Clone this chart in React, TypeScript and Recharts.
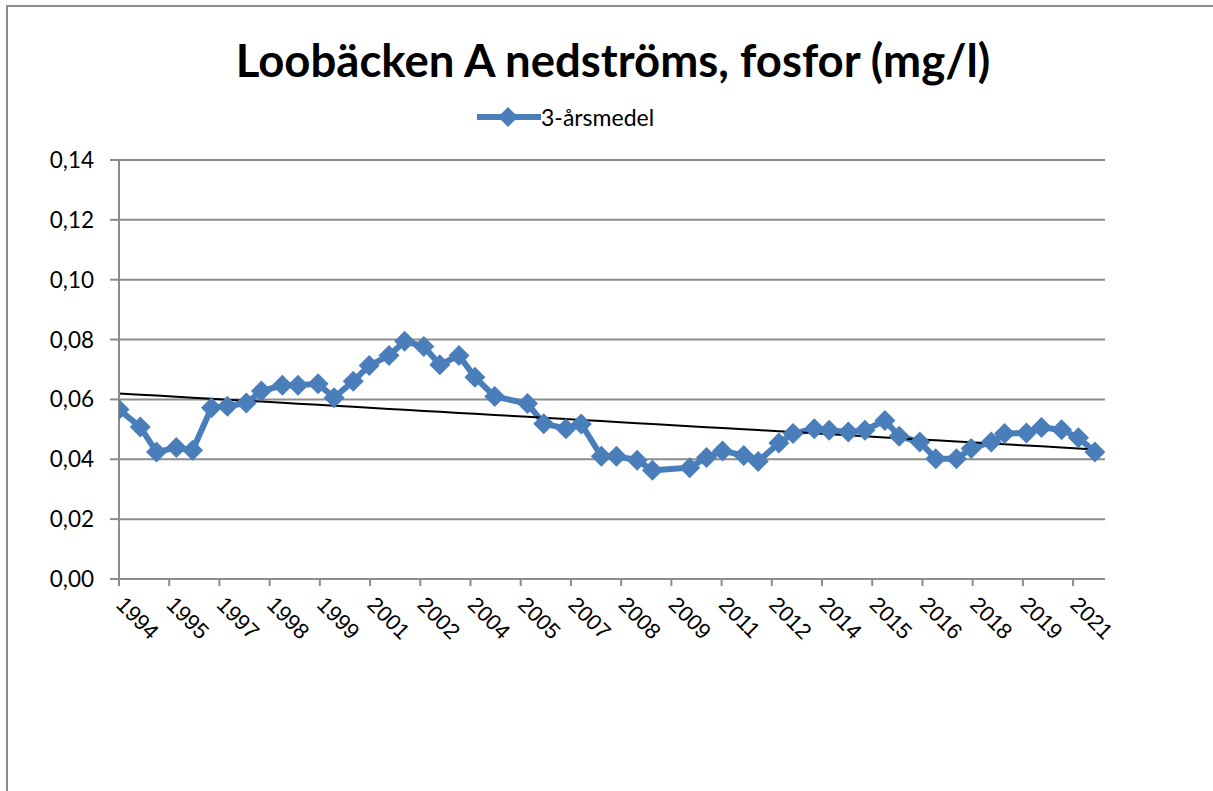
import React from 'react';
import { LineChart, Line, XAxis, YAxis, CartesianGrid } from 'recharts';

// provtagningsdatum (vår och höst), 3-årsmedel fosfor mg/l
const sampleDates = [
  '1994-04-19', '1994-11-25', '1995-05-10', '1995-12-01', '1996-05-16', '1996-11-28',
  '1997-05-10', '1997-11-22', '1998-04-25', '1998-11-28', '1999-05-07', '1999-12-01',
  '2000-05-13', '2000-11-28', '2001-05-10', '2001-12-01', '2002-05-10', '2002-11-25',
  '2003-05-07', '2003-11-22', '2004-05-04', '2004-11-25', '2005-10-28', '2006-04-13',
  '2006-11-28', '2007-05-04', '2007-11-28', '2008-05-01', '2008-12-01', '2009-05-07',
  '2010-05-25', '2010-11-16', '2011-04-28', '2011-12-04', '2012-05-01', '2012-12-01',
  '2013-04-25', '2013-12-01', '2014-05-01', '2014-11-16', '2015-05-04', '2015-11-28',
  '2016-04-22', '2016-11-22', '2017-05-04', '2017-12-04', '2018-05-04', '2018-11-28',
  '2019-04-13', '2019-11-25', '2020-04-28', '2020-11-22', '2021-05-13', '2021-11-01',
];

const medelValues = [
  0.0566, 0.0508, 0.0424, 0.0439, 0.0430, 0.0572,
  0.0577, 0.0588, 0.0628, 0.0647, 0.0647, 0.0652,
  0.0606, 0.0661, 0.0713, 0.0747, 0.0794, 0.0777,
  0.0716, 0.0747, 0.0674, 0.0610, 0.0586, 0.0519,
  0.0502, 0.0518, 0.0410, 0.0410, 0.0397, 0.0363,
  0.0372, 0.0406, 0.0428, 0.0413, 0.0393, 0.0454,
  0.0486, 0.0502, 0.0497, 0.0491, 0.0497, 0.0530,
  0.0477, 0.0458, 0.0402, 0.0402, 0.0436, 0.0458,
  0.0486, 0.0488, 0.0506, 0.0499, 0.0472, 0.0424,
];

const xTickLabels = [
  '1994', '1995', '1997', '1998', '1999', '2001', '2002', '2004', '2005', '2007',
  '2008', '2009', '2011', '2012', '2014', '2015', '2016', '2018', '2019', '2021',
];

const yTicks = [0, 0.02, 0.04, 0.06, 0.08, 0.1, 0.12, 0.14];

const BLUE = '#4A7EBB';
const GRID = '#8C8C8C';

const toYear = (s: string) => {
  const [y, m, d] = s.split('-').map(Number);
  return y + (m - 1) / 12 + (d - 1) / 360;
};

const times = sampleDates.map(toYear);

// linjär trend (minsta kvadrat) som i Excel
const n = times.length;
const mx = times.reduce((a, b) => a + b, 0) / n;
const my = medelValues.reduce((a, b) => a + b, 0) / n;
let sxy = 0;
let sxx = 0;
times.forEach((t, i) => {
  sxy += (t - mx) * (medelValues[i] - my);
  sxx += (t - mx) * (t - mx);
});
const slope = sxy / sxx;
const intercept = my - slope * mx;

const data = times.map((t, i) => ({
  t,
  medel: medelValues[i],
  trend: intercept + slope * t,
}));

// datumaxel: huvudenhet 17 månader
const axisStart = times[0];
const axisEnd = axisStart + 333.8 / 12;
const xTicks = xTickLabels.map((_, k) => axisStart + (k * 17) / 12);

const Diamond = (props: any) => {
  const { cx, cy, index } = props;
  if (cx == null || cy == null) return <g key={index} />;
  const r = 10.5;
  return (
    <polygon
      key={index}
      points={`${cx},${cy - r} ${cx + r},${cy} ${cx},${cy + r} ${cx - r},${cy}`}
      fill={BLUE}
    />
  );
};

const XTick = (props: any) => {
  const { x, y, index } = props;
  return (
    <text
      x={0}
      y={0}
      transform={`translate(${x - 4},${y + 18}) rotate(45)`}
      textAnchor="start"
      fontFamily="'Liberation Sans', Arial, sans-serif"
      fontSize={22}
      fill="#000"
    >
      {xTickLabels[index]}
    </text>
  );
};

export default function App() {
  return (
    <div style={{ position: 'absolute', left: 0, top: 0, width: 1213, height: 791, overflow: 'hidden', background: '#fff' }}>
      <div
        style={{
          position: 'absolute',
          left: 6,
          top: 5,
          width: 1300,
          height: 900,
          borderLeft: `2px solid ${GRID}`,
          borderTop: `2px solid ${GRID}`,
        }}
      />
      <div
        style={{
          position: 'absolute',
          left: 0,
          top: 33,
          width: 1226,
          textAlign: 'center',
          fontFamily: 'Lato, sans-serif',
          fontWeight: 700,
          fontSize: 45.5,
          lineHeight: '54px',
          color: '#000',
        }}
      >
        Loobäcken A nedströms, fosfor (mg/l)
      </div>
      <div style={{ position: 'absolute', left: 477, top: 104, height: 26, display: 'flex', alignItems: 'center' }}>
        <svg width={64} height={24}>
          <line x1={0} y1={12} x2={64} y2={12} stroke={BLUE} strokeWidth={6} />
          <polygon points="31,2 41,12 31,22 21,12" fill={BLUE} />
        </svg>
        <span style={{ fontFamily: 'Lato, sans-serif', fontSize: 23, color: '#000', whiteSpace: 'nowrap' }}>
          3-årsmedel
        </span>
      </div>
      <LineChart
        width={1213}
        height={791}
        data={data}
        margin={{ top: 160, right: 108, left: 19, bottom: 152 }}
        style={{ position: 'absolute', left: 0, top: 0 }}
      >
        <CartesianGrid vertical={false} stroke={GRID} strokeWidth={2} />
        <XAxis
          dataKey="t"
          type="number"
          domain={[axisStart, axisEnd]}
          ticks={xTicks}
          interval={0}
          allowDataOverflow
          height={60}
          stroke={GRID}
          strokeWidth={2}
          tickSize={7}
          tick={<XTick />}
        />
        <YAxis
          domain={[0, 0.14]}
          ticks={yTicks}
          interval={0}
          width={100}
          stroke={GRID}
          strokeWidth={2}
          tickSize={9}
          tickMargin={16}
          tickFormatter={(v: number) => v.toFixed(2).replace('.', ',')}
          tick={{ fill: '#000', fontSize: 22.5, fontFamily: 'Lato, sans-serif' }}
        />
        <Line
          dataKey="medel"
          name="3-årsmedel"
          stroke={BLUE}
          strokeWidth={6}
          dot={<Diamond />}
          activeDot={false}
          isAnimationActive={false}
        />
        <Line
          dataKey="trend"
          stroke="#000"
          strokeWidth={2}
          dot={false}
          activeDot={false}
          legendType="none"
          isAnimationActive={false}
        />
      </LineChart>
    </div>
  );
}
